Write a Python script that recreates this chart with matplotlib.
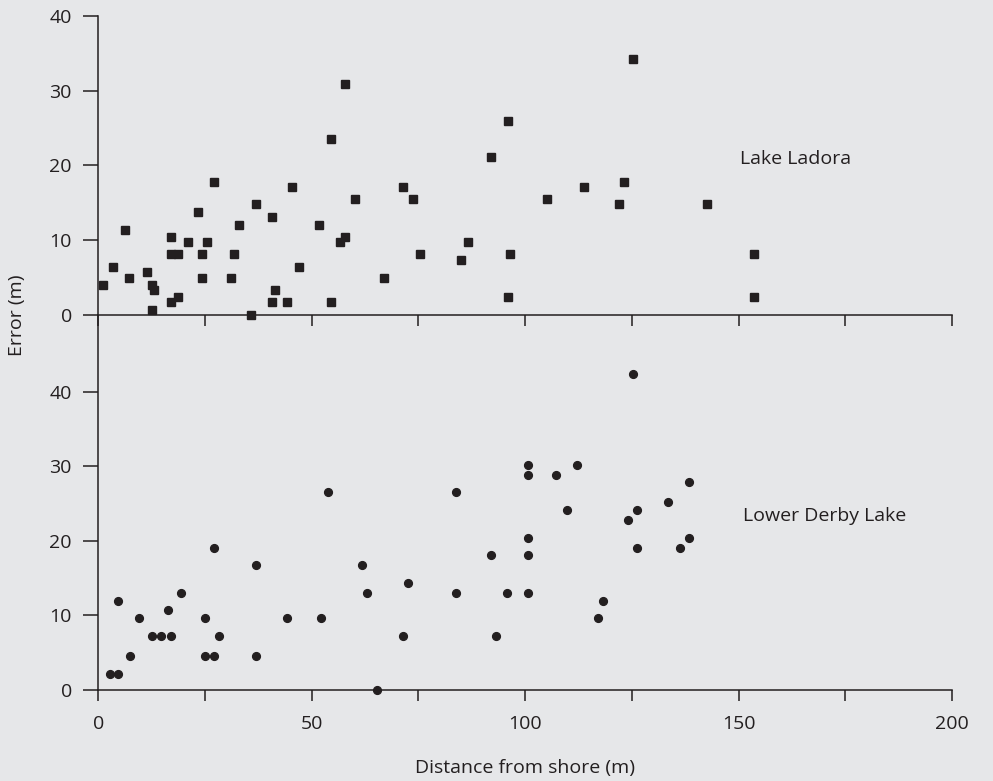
import matplotlib
matplotlib.use("Agg")
import matplotlib.pyplot as plt
from matplotlib.ticker import MultipleLocator

plt.rcParams['font.family'] = ['Open Sans', 'DejaVu Sans']

# Lake Ladora (squares)
ladora_x = [1.1, 3.4, 6.2, 7.3, 11.4, 12.6, 13.1, 12.6, 17.0, 17.0, 18.7, 17.0, 18.7,
            21.0, 23.3, 24.4, 24.4, 25.5, 27.2, 31.1, 31.7, 32.9, 35.8, 36.9, 40.8,
            40.8, 41.5, 44.3, 45.4, 47.1, 51.6, 54.5, 54.5, 57.8, 56.7, 57.8, 60.1,
            66.9, 71.4, 73.7, 75.3, 84.9, 86.6, 92.0, 95.9, 96.4, 95.9, 105.1, 113.9,
            123.1, 122.1, 125.3, 142.7, 153.6, 153.6]
ladora_y = [4.0, 6.4, 11.4, 5.0, 5.7, 4.0, 3.3, 0.7, 10.4, 8.1, 8.1, 1.7, 2.4,
            9.8, 13.8, 8.1, 5.0, 9.8, 17.8, 5.0, 8.1, 12.1, 0.0, 14.8, 13.1,
            1.7, 3.3, 1.7, 17.1, 6.4, 12.1, 23.5, 1.7, 30.9, 9.8, 10.4, 15.5,
            5.0, 17.1, 15.5, 8.1, 7.4, 9.8, 21.2, 25.9, 8.1, 2.4, 15.5, 17.1,
            17.8, 14.8, 34.3, 14.8, 8.1, 2.4]

# Lower Derby Lake (circles)
derby_x = [2.7, 4.5, 4.5, 7.4, 9.6, 12.5, 14.8, 17.0, 16.4, 19.3, 24.9, 24.9, 27.2,
           27.2, 28.3, 36.9, 36.9, 44.2, 52.2, 53.8, 61.8, 62.9, 65.2, 71.4, 72.5,
           83.8, 83.8, 92.0, 93.1, 95.8, 100.7, 100.7, 100.7, 100.7, 100.7, 107.3,
           109.9, 112.1, 117.1, 118.2, 124.1, 125.2, 126.3, 126.3, 133.4, 136.2,
           138.3, 138.3]
derby_y = [2.2, 2.2, 12.0, 4.6, 9.7, 7.3, 7.3, 7.3, 10.7, 13.0, 9.7, 4.6, 4.6,
           19.1, 7.3, 16.7, 4.6, 9.7, 9.7, 26.5, 16.7, 13.0, 0.0, 7.3, 14.4,
           26.5, 13.0, 18.1, 7.3, 13.0, 30.2, 28.9, 20.4, 18.1, 13.0, 28.9,
           24.2, 30.2, 9.7, 12.0, 22.8, 42.4, 24.2, 19.1, 25.2, 19.1,
           27.9, 20.4]

x_ticks = [0, 50, 100, 150, 200]
y_ticks = [0, 10, 20, 30, 40]

bg = '#e6e7e9'
ink = '#231f20'
fs = 14

fig = plt.figure(figsize=(9.93, 7.81), dpi=100, facecolor=bg)
L, R = 0.099, 0.9587
ax1 = fig.add_axes([L, 0.5967, R - L, 0.9795 - 0.5967])
ax2 = fig.add_axes([L, 0.1165, R - L, 0.5967 - 0.1165])
ax1.set_zorder(3)

for ax in (ax1, ax2):
    ax.set_facecolor(bg)
    for s in ('top', 'right'):
        ax.spines[s].set_visible(False)
    for s in ('left', 'bottom'):
        ax.spines[s].set_color(ink)
        ax.spines[s].set_linewidth(1.1)
    ax.set_xlim(0, 200)
    ax.xaxis.set_major_locator(MultipleLocator(50))
    ax.xaxis.set_minor_locator(MultipleLocator(25))
    ax.set_yticks(y_ticks)
    ax.tick_params(axis='y', direction='out', length=11, width=1.1, color=ink,
                   labelsize=fs, labelcolor=ink, pad=8)
    ax.tick_params(axis='x', which='both', direction='out', length=8, width=1.1,
                   color=ink, labelsize=fs, labelcolor=ink, pad=10)

ax1.set_ylim(0, 40)
ax2.set_ylim(0, 50.3)
ax1.tick_params(axis='x', labelbottom=False)
ax2.set_xticks(x_ticks)

ax1.plot(ladora_x, ladora_y, linestyle='none', marker='s', markersize=5.8,
         color=ink, clip_on=False)
ax2.plot(derby_x, derby_y, linestyle='none', marker='o', markersize=5.6,
         color=ink, clip_on=False)

ax1.text(150.3, 20.9, 'Lake Ladora', fontsize=fs, color=ink, va='center', ha='left')
ax2.text(151.0, 23.3, 'Lower Derby Lake', fontsize=fs, color=ink, va='center', ha='left')

fig.text(0.017, 1 - 315 / 781, 'Error (m)', rotation=90, fontsize=fs, color=ink,
         ha='center', va='center')
fig.text((L + R) / 2, 1 - 768 / 781, 'Distance from shore (m)', fontsize=fs,
         color=ink, ha='center', va='center')

fig.savefig('out.png', dpi=100, facecolor=bg)
